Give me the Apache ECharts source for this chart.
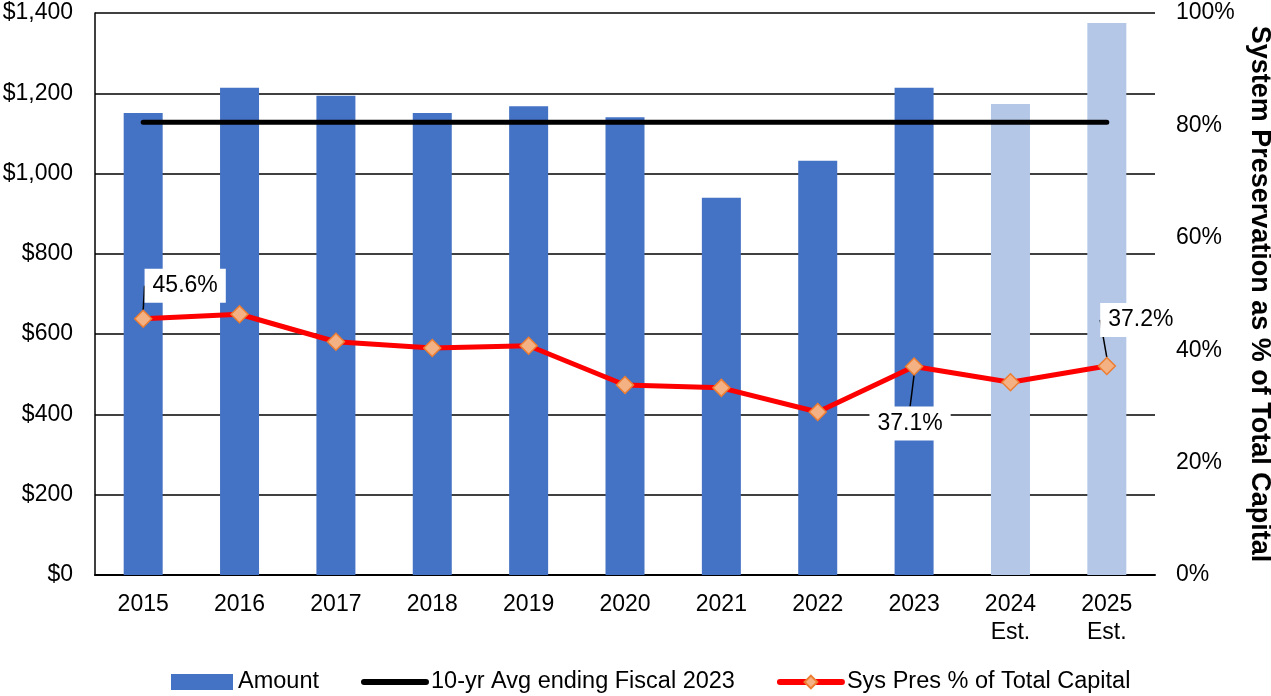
<!DOCTYPE html>
<html>
<head>
<meta charset="utf-8">
<script src="https://cdn.jsdelivr.net/npm/echarts@6/dist/echarts.min.js"></script>
<style>
  html, body { margin: 0; padding: 0; background: #fff; }
  #chart { width: 1271px; height: 696px; }
</style>
</head>
<body>
<div id="chart"></div>
<script>
var years = ["2015", "2016", "2017", "2018", "2019", "2020", "2021", "2022", "2023", "2024\nEst.", "2025\nEst."];
var amount = [1151, 1214, 1194, 1151, 1168, 1140, 940, 1032, 1214, 1173, 1375];
var estimated = [false, false, false, false, false, false, false, false, false, true, true];
var tenYrAvg = [1128, 1128, 1128, 1128, 1128, 1128, 1128, 1128, 1128, 1128, 1128];
var sysPresPct = [45.6, 46.4, 41.5, 40.4, 40.8, 33.8, 33.3, 29.0, 37.1, 34.3, 37.2];
var labelledPoints = [0, 8, 10];

// where each callout box sits, relative to its point
var calloutShift = { 0: [42, -33], 8: [-4, 57], 10: [34, -46] };

var myChart = echarts.init(document.getElementById("chart"));
var font = "Liberation Sans, Arial, sans-serif";
var fs = 23;

var barData = amount.map(function (v, i) {
  return { value: v, itemStyle: { color: estimated[i] ? "#B4C7E7" : "#4472C4" } };
});

var pctData = sysPresPct.map(function (v, i) {
  var item = { value: v };
  if (labelledPoints.indexOf(i) >= 0) {
    item.label = { show: true };
    item.labelLine = { show: true };
  }
  return item;
});

var option = {
  backgroundColor: "#fff",
  animation: false,
  textStyle: { fontFamily: font },
  grid: { left: 95, right: 116, top: 13, bottom: 121, containLabel: false, outerBoundsMode: "none" },
  legend: {
    top: 665,
    left: 166,
    itemGap: 42,
    itemWidth: 62,
    itemHeight: 16,
    lineStyle: { width: 6, cap: "round" },
    textStyle: { fontSize: 23.5, color: "#000", fontFamily: font },
    data: [
      { name: "Amount", icon: "rect", itemStyle: { color: "#4472C4" } },
      {
        name: "10-yr Avg ending Fiscal 2023",
        itemStyle: { color: "rgba(0,0,0,0)", borderColor: "rgba(0,0,0,0)", borderWidth: 0 },
        lineStyle: { color: "#000", width: 6, cap: "round" }
      },
      {
        name: "Sys Pres % of Total Capital",
        lineStyle: { color: "#FF0000", width: 6, cap: "round" }
      }
    ]
  },
  xAxis: {
    type: "category",
    data: years,
    axisLine: { lineStyle: { color: "#000", width: 2 } },
    axisTick: { show: false },
    axisLabel: { fontSize: fs, color: "#000", margin: 16, lineHeight: 28 }
  },
  yAxis: [
    {
      type: "value",
      min: 0,
      max: 1400,
      interval: 200,
      axisLine: { show: true, lineStyle: { color: "#000", width: 1.5 } },
      axisTick: { show: false },
      splitLine: { lineStyle: { color: "#000", width: 1.5 } },
      axisLabel: {
        fontSize: fs,
        color: "#000",
        margin: 22,
        formatter: function (v) { return "$" + v.toLocaleString("en-US"); }
      }
    },
    {
      type: "value",
      min: 0,
      max: 100,
      interval: 20,
      axisLine: { show: false },
      axisTick: { show: false },
      splitLine: { show: false },
      axisLabel: { fontSize: fs, color: "#000", margin: 21, formatter: "{value}%" },
      name: "System Preservation as % of Total Capital",
      nameLocation: "middle",
      nameRotate: -90,
      nameGap: 89,
      nameTextStyle: { fontSize: 27, fontWeight: "bold", color: "#000" }
    }
  ],
  series: [
    {
      name: "Amount",
      type: "bar",
      barWidth: 39,
      itemStyle: { color: "#4472C4" },
      data: barData
    },
    {
      name: "10-yr Avg ending Fiscal 2023",
      type: "line",
      symbol: "none",
      z: 3,
      itemStyle: { color: "#000" },
      lineStyle: { color: "#000", width: 5, cap: "round" },
      data: tenYrAvg
    },
    {
      name: "Sys Pres % of Total Capital",
      type: "line",
      yAxisIndex: 1,
      z: 4,
      symbol: "diamond",
      symbolSize: 17,
      itemStyle: { color: "#F4B183", borderColor: "#ED7D31", borderWidth: 1.5 },
      lineStyle: { color: "#FF0000", width: 5 },
      label: {
        show: false,
        position: "inside",
        formatter: function (p) { return p.value.toFixed(1) + "%"; },
        fontSize: fs,
        color: "#000",
        backgroundColor: "#fff",
        padding: [6, 8, 5, 8]
      },
      labelLine: { show: false, lineStyle: { color: "#000", width: 1.5 } },
      labelLayout: function (p) {
        var s = calloutShift[p.dataIndex];
        if (!s) return {};
        return { dx: s[0], dy: s[1] };
      },
      data: pctData
    }
  ]
};

myChart.setOption(option);
</script>
</body>
</html>
